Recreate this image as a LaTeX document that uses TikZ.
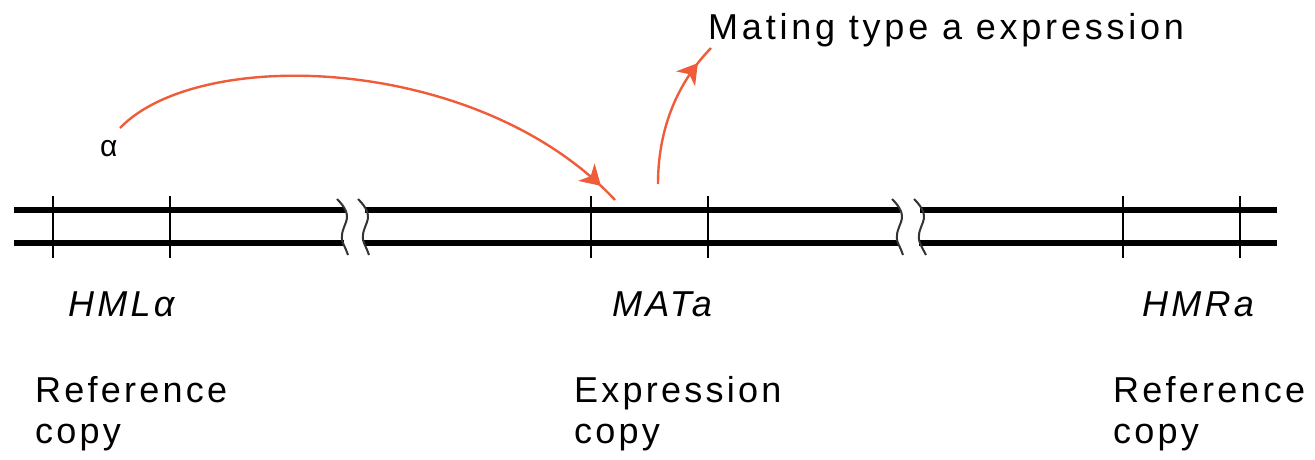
\documentclass[tikz,border=0pt]{standalone}
\usepackage{fontspec}
\setmainfont{Liberation Sans}[LetterSpace=9]
\newfontfamily\titlefont{Liberation Sans}[LetterSpace=10.5]
\usetikzlibrary{arrows.meta,decorations.markings}
\definecolor{arrowred}{RGB}{240,92,58}
\tikzset{
  strand/.style={line width=6pt, black},
  tickmark/.style={line width=2.6pt, black},
  breakmark/.style={line width=2pt, black!80},
  lbl/.style={anchor=base west, inner sep=0pt, font=\fontsize{36}{41}\selectfont},
  curvearrow/.style={arrowred, line width=2.4pt, postaction={decorate},
    decoration={markings, mark=at position -20pt with {\arrow[arrowred, fill=arrowred, line width=1pt]{Stealth[length=20pt,width=24pt,inset=6pt]}}}}
}
\newcommand{\twoline}[2]{\begin{tabular}[t]{@{}l@{}}#1\\#2\end{tabular}}
\begin{document}
\begin{tikzpicture}[x=1pt,y=-1pt]
\useasboundingbox (0,0) rectangle (1315,459);
% strands
\draw[strand] (14,210) -- (345,210);
\draw[strand] (14,243) -- (344,243);
\draw[strand] (365,210) -- (900,210);
\draw[strand] (364,243) -- (898,243);
\draw[strand] (920,210) -- (1277,210);
\draw[strand] (919,243) -- (1277,243);
% break marks
\draw[breakmark] (337,199) .. controls (345,207) and (349,214) .. (346,222) .. controls (343,230) and (340,236) .. (343,243) .. controls (345,248) and (347,251) .. (348,255);
\draw[breakmark] (358,199) .. controls (366,207) and (370,214) .. (367,222) .. controls (364,230) and (361,236) .. (364,243) .. controls (366,248) and (368,251) .. (369,255);
\draw[breakmark] (892,199) .. controls (900,207) and (904,214) .. (901,222) .. controls (898,230) and (895,236) .. (898,243) .. controls (900,248) and (902,251) .. (903,255);
\draw[breakmark] (914,199) .. controls (922,207) and (926,214) .. (923,222) .. controls (920,230) and (917,236) .. (920,243) .. controls (922,248) and (924,251) .. (926,255);
% ticks
\foreach \x in {53,170,591,708,1123,1240}
  \draw[tickmark] (\x,196) -- (\x,258);
% labels
\node[lbl] (hml) at (68,316) {\itshape HMLα};
\node[lbl] (mat) at (612,316) {\itshape MATa};
\node[lbl] (hmr) at (1142,316) {\itshape HMRa};
\node[lbl] (ref1) at (35,402) {\twoline{Reference}{copy}};
\node[lbl] (expr) at (574,402) {\twoline{Expression}{copy}};
\node[lbl] (ref2) at (1113,402) {\twoline{Reference}{copy}};
\node[lbl, font=\fontsize{30}{34}\selectfont] (alpha) at (100,156) {α};
\node[lbl, font=\titlefont\fontsize{36}{41}\selectfont] (mating) at (708,39) {Mating type a expression};
% arrows
\coordinate (a1s) at (120,128);
\coordinate (a1e) at (615,200);
\coordinate (a2s) at (658,184);
\coordinate (a2e) at (711,48);
\draw[curvearrow] (a1s) .. controls (200,45) and (480,55) .. (a1e);
\draw[curvearrow] (a2s) .. controls (658,125) and (680,80) .. (a2e);
\end{tikzpicture}
\end{document}
